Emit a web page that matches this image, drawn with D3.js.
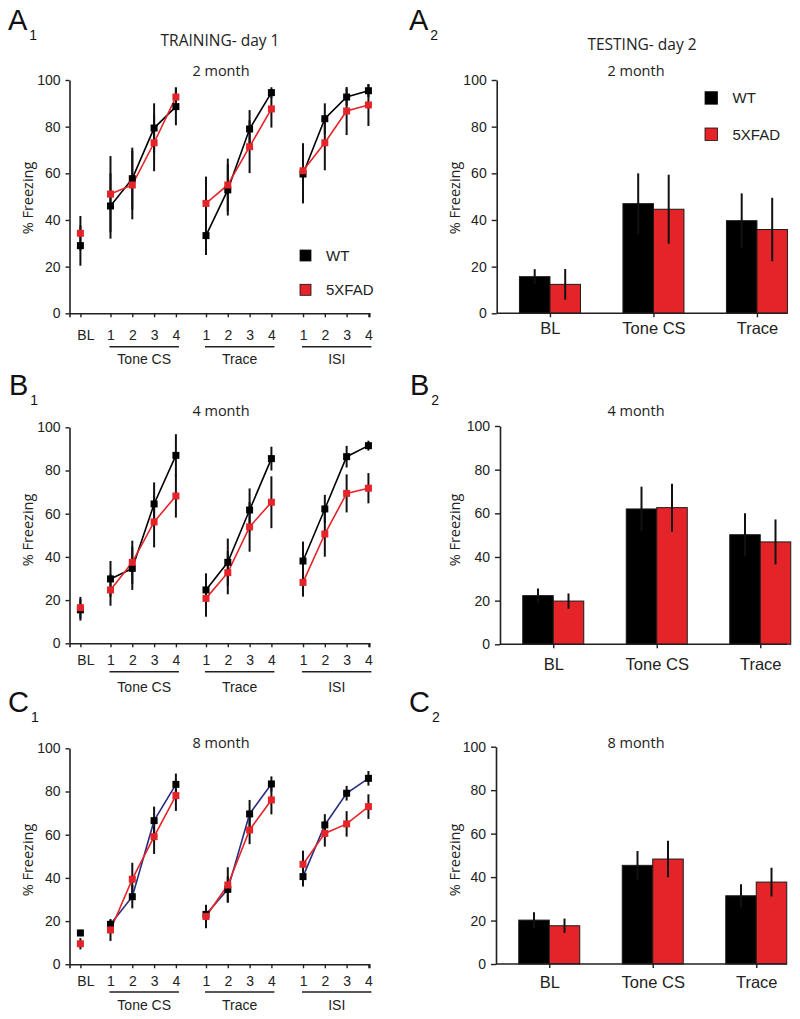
<!DOCTYPE html>
<html><head><meta charset="utf-8">
<script src="https://cdn.jsdelivr.net/npm/d3@7"></script>
<style>body{margin:0;background:#fff}</style>
</head><body>
<svg id="c" width="800" height="1019"></svg>
<script>
// ---------- DATA ----------
const trialLabels = ["BL","1","2","3","4","1","2","3","4","1","2","3","4"];
const trialGroups = ["Tone CS","Trace","ISI"];
const yTicks = [0,20,40,60,80,100];
const seriesNames = ["WT","5XFAD"];

// Training day 1 (line panels)
const wt2m    = [29, 46, 57.7, 79.4, 88.6, 33.3, 52.9, 79, 94.6, 59.7, 83.4, 92.7, 95.4];
const wt2mErr = [8.6, 14, 13.3, 10.6, 8, 8.3, 11, 8.1, 2.3, 12.6, 6.6, 3.7, 2.7];
const fad2m    = [34.3, 51.1, 55, 73.1, 92.7, 47.1, 55, 71.4, 87.6, 61.1, 73.1, 86.7, 89.3];
const fad2mErr = [7.4, 16.3, 14.7, 12.2, 4.2, 11.5, 11.3, 11.3, 8, 11.8, 11.8, 10.3, 9];

const wt4m    = [15.5, 29.8, 34.7, 64.5, 87, 24.7, 37.5, 61.7, 85.5, 38.1, 62.2, 86.4, 91.5];
const wt4mErr = [5, 8.3, 10, 10, 9.8, 7.7, 11, 10, 5.5, 9, 6.5, 5, 2.3];
const fad4m    = [16.5, 24.7, 37.5, 56.2, 68.2, 20.8, 32.7, 53.9, 65.3, 28.2, 50.6, 69.4, 71.8];
const fad4mErr = [5, 7.3, 10, 11.8, 10, 8.5, 10, 11.5, 12, 6.6, 10.5, 8.8, 7];

const wt8m    = [14.5, 18.5, 31.3, 66.5, 83.3, 23.1, 34.7, 69.6, 83.5, 40.6, 64.5, 79.2, 86.1];
const wt8mErr = [1.5, 2, 5.4, 6.5, 5, 4.4, 6, 6.5, 3.5, 4.6, 5, 3.4, 3.4];
const fad8m    = [9.5, 15.9, 39.4, 59.1, 78.1, 22.1, 36.7, 62.2, 76.1, 46.3, 60.6, 65, 73];
const fad8mErr = [2.6, 5.1, 7.6, 8, 7.1, 5.4, 8.2, 6.6, 6.7, 6.3, 6.1, 5.9, 5.7];

// Testing day 2 (bar panels)
const barCategories = ["BL","Tone CS","Trace"];
const wtBar2m = [15.7, 47, 39.7];     const wtBar2mErr = [3.2, 13, 11.7];
const fadBar2m = [12.4, 44.6, 35.9];  const fadBar2mErr = [6.6, 14.8, 13.6];
const wtBar4m = [22.3, 62, 50.2];     const wtBar4mErr = [3.3, 10.2, 9.8];
const fadBar4m = [19.8, 62.6, 46.9];  const fadBar4mErr = [3.5, 11, 10.3];
const wtBar8m = [20.2, 45.4, 31.4];   const wtBar8mErr = [3.6, 6.6, 5.3];
const fadBar8m = [17.6, 48.3, 37.7];  const fadBar8mErr = [3.3, 8.4, 6.6];

// ---------- STYLE ----------
const RED = "#e5242a", NAVY = "#2b2e7f", INK = "#231f20", TXT = "#222";
const tickFont = "'Liberation Sans', Arial, sans-serif";
const titleFont = "'Open Sans', 'Noto Sans', sans-serif";
const svg = d3.select("#c");

// slot positions for the trial axis (BL + 3 groups of 4 trials, with gaps between groups)
function trialSlots() {
  const gaps = [1.38, 1.38, 1.45];
  const s = [0]; let p = 0;
  gaps.forEach(g => { p += g; for (let i = 0; i < 4; i++) { s.push(p); if (i < 3) p += 1; } });
  return s;
}
const slots = trialSlots();

function styleAxis(g) {
  g.selectAll("path.domain").attr("stroke", INK).attr("stroke-width", 1.6);
  g.selectAll(".tick line").attr("stroke", INK).attr("stroke-width", 1.4);
  g.selectAll(".tick text").attr("fill", TXT).style("font-family", tickFont);
}

function letter(x, yBase, L, sub) {
  const t = svg.append("text").attr("x", x).attr("y", yBase)
    .style("font-family", tickFont).style("font-size", "29px").attr("fill", "#111").text(L);
  t.append("tspan").attr("dx", 2).attr("dy", 10).style("font-size", "14px").text(sub);
}

function yLabel(x, yMid) {
  svg.append("text").attr("transform", `translate(${x},${yMid}) rotate(-90)`)
    .attr("text-anchor", "middle").style("font-family", titleFont).style("font-size", "14.5px")
    .attr("fill", TXT).text("% Freezing");
}

function titleText(x, y, txt, size) {
  svg.append("text").attr("x", x).attr("y", y).attr("text-anchor", "middle")
    .style("font-family", titleFont).style("font-size", size + "px").attr("fill", TXT).text(txt);
}

function legend(x, y1, y2, size) {
  [[y1, "#000", "WT"], [y2, RED, "5XFAD"]].forEach(([yy, c, t]) => {
    svg.append("rect").attr("x", x).attr("y", yy).attr("width", size).attr("height", size)
      .attr("fill", c).attr("stroke", "#111").attr("stroke-width", 0.8);
    svg.append("text").attr("x", x + size + 15).attr("y", yy + size * 0.5).attr("dy", "0.36em")
      .style("font-family", tickFont).style("font-size", "15px").attr("fill", TXT).text(t);
  });
}

function linePanel(cfg) {
  const x = d3.scaleLinear().domain([-0.5, 13.25]).range([69.5, 369.3]);
  const y = d3.scaleLinear().domain([0, 100]).range([cfg.y0, cfg.y100]);
  const ga = svg.append("g").attr("transform", `translate(69.5,0)`)
    .call(d3.axisLeft(y).tickValues(yTicks).tickSize(4).tickSizeOuter(0).tickPadding(5));
  ga.selectAll(".tick text").style("font-size", "14px");
  styleAxis(ga);
  const gx = svg.append("g").attr("transform", `translate(0,${cfg.y0})`)
    .call(d3.axisBottom(x).tickValues(slots).tickFormat((d, i) => trialLabels[i])
      .tickSize(4).tickSizeOuter(4).tickPadding(cfg.tickPad));
  gx.selectAll(".tick text").style("font-size", "14px").attr("dx", (d, i) => i === 0 ? 5 : 0);
  styleAxis(gx);
  // group underlines + names
  trialGroups.forEach((name, g) => {
    const a = x(slots[1 + g * 4]) - 1, b = x(slots[4 + g * 4]) + 3;
    svg.append("line").attr("x1", a).attr("x2", b).attr("y1", cfg.y0 + cfg.under).attr("y2", cfg.y0 + cfg.under)
      .attr("stroke", INK).attr("stroke-width", 1.6);
    svg.append("text").attr("x", (a + b) / 2).attr("y", cfg.y0 + cfg.groupBase).attr("text-anchor", "middle")
      .style("font-family", tickFont).style("font-size", "14px").attr("fill", TXT).text(name);
  });
  const series = [
    { v: cfg.wt, e: cfg.wtErr, line: cfg.wtLine, fill: "#000" },
    { v: cfg.fad, e: cfg.fadErr, line: RED, fill: RED }
  ];
  // error bars
  series.forEach(s => {
    svg.append("g").selectAll("line").data(s.v).join("line")
      .attr("x1", (d, i) => x(slots[i])).attr("x2", (d, i) => x(slots[i]))
      .attr("y1", (d, i) => y(d - s.e[i])).attr("y2", (d, i) => y(d + s.e[i]))
      .attr("stroke", "#111").attr("stroke-width", 2);
  });
  // lines per group (BL not connected)
  series.forEach(s => {
    const ln = d3.line().x(d => x(slots[d])).y(d => y(s.v[d]));
    [0, 1, 2].forEach(g => {
      const idx = [1, 2, 3, 4].map(k => k + g * 4);
      svg.append("path").attr("d", ln(idx)).attr("fill", "none")
        .attr("stroke", s.line).attr("stroke-width", 1.6);
    });
  });
  // markers
  const m = 7;
  series.forEach(s => {
    svg.append("g").selectAll("rect").data(s.v).join("rect")
      .attr("x", (d, i) => x(slots[i]) - m / 2).attr("y", d => y(d) - m / 2)
      .attr("width", m).attr("height", m).attr("fill", s.fill);
  });
}

function barPanel(cfg) {
  const y = d3.scaleLinear().domain([0, 100]).range([cfg.y0, cfg.y100]);
  const x0 = d3.scaleBand().domain(barCategories).range([cfg.ax + 1.5, cfg.ax + 1.5 + 310.5]).padding(0);
  const pair = 61;
  const x1 = d3.scaleBand().domain(seriesNames).range([0, pair]);
  const off = (x0.bandwidth() - pair) / 2;
  const vals = [[cfg.wt, cfg.wtErr, "#000"], [cfg.fad, cfg.fadErr, RED]];
  vals.forEach(([v, e, c], si) => {
    const g = svg.append("g");
    g.selectAll("rect").data(v).join("rect")
      .attr("x", (d, i) => x0(barCategories[i]) + off + x1(seriesNames[si]))
      .attr("width", x1.bandwidth()).attr("y", d => y(d)).attr("height", d => cfg.y0 - y(d))
      .attr("fill", c).attr("stroke", "#1a1a1a").attr("stroke-width", 1);
  });
  vals.forEach(([v, e], si) => {
    svg.append("g").selectAll("line").data(v).join("line")
      .attr("x1", (d, i) => x0(barCategories[i]) + off + x1(seriesNames[si]) + x1.bandwidth() / 2)
      .attr("x2", (d, i) => x0(barCategories[i]) + off + x1(seriesNames[si]) + x1.bandwidth() / 2)
      .attr("y1", (d, i) => y(d - e[i])).attr("y2", (d, i) => y(d + e[i]))
      .attr("stroke", "#111").attr("stroke-width", 2);
  });
  const ga = svg.append("g").attr("transform", `translate(${cfg.ax},0)`)
    .call(d3.axisLeft(y).tickValues(yTicks).tickSize(5).tickSizeOuter(0).tickPadding(5));
  ga.selectAll(".tick text").style("font-size", "14px");
  styleAxis(ga);
  const gx = svg.append("g").attr("transform", `translate(0,${cfg.y0})`)
    .call(d3.axisBottom(d3.scalePoint().domain(barCategories)
      .range([x0(barCategories[0]) + x0.bandwidth() / 2, x0(barCategories[2]) + x0.bandwidth() / 2]))
      .tickSize(4).tickSizeOuter(0).tickPadding(cfg.tickPad));
  gx.select("path.domain").remove();
  gx.selectAll(".tick text").style("font-size", "16.5px");
  styleAxis(gx);
  svg.append("line").attr("x1", cfg.ax).attr("x2", 787).attr("y1", cfg.y0).attr("y2", cfg.y0)
    .attr("stroke", INK).attr("stroke-width", 1.6);
}

// ---------- LAYOUT ----------
letter(8, 30, "A", "1"); letter(409, 30, "A", "2");
letter(9, 395, "B", "1"); letter(410, 395, "B", "2");
letter(8, 712, "C", "1"); letter(409, 712, "C", "2");

titleText(220, 46, "TRAINING- day 1", 15.5);
titleText(642, 50, "TESTING- day 2", 15.5);
titleText(221, 76, "2 month", 14.5); titleText(636, 76, "2 month", 14.5);
titleText(221, 416, "4 month", 14.5); titleText(636, 416, "4 month", 14.5);
titleText(221, 748, "8 month", 14.5); titleText(636, 748, "8 month", 14.5);

yLabel(33, 198); yLabel(33, 530); yLabel(33, 860);
yLabel(460, 198); yLabel(460, 530); yLabel(460, 860);

linePanel({ y0: 313.3, y100: 80, wt: wt2m, wtErr: wt2mErr, fad: fad2m, fadErr: fad2mErr, wtLine: "#000",
  tickPad: 13, under: 33.4, groupBase: 50.7 });
linePanel({ y0: 643.3, y100: 427.3, wt: wt4m, wtErr: wt4mErr, fad: fad4m, fadErr: fad4mErr, wtLine: "#000",
  tickPad: 8, under: 28.4, groupBase: 48.4 });
linePanel({ y0: 964.3, y100: 748.3, wt: wt8m, wtErr: wt8mErr, fad: fad8m, fadErr: fad8mErr, wtLine: NAVY,
  tickPad: 7.5, under: 27.7, groupBase: 46 });

barPanel({ ax: 496.7, y0: 313.3, y100: 80, wt: wtBar2m, wtErr: wtBar2mErr, fad: fadBar2m, fadErr: fadBar2mErr, tickPad: 5 });
barPanel({ ax: 500, y0: 644.3, y100: 426, wt: wtBar4m, wtErr: wtBar4mErr, fad: fadBar4m, fadErr: fadBar4mErr, tickPad: 10 });
barPanel({ ax: 496, y0: 964, y100: 746.7, wt: wtBar8m, wtErr: wtBar8mErr, fad: fadBar8m, fadErr: fadBar8mErr, tickPad: 8 });

legend(300, 250, 284.3, 11);
legend(705, 91.7, 128, 12.5);
</script>
</body></html>
